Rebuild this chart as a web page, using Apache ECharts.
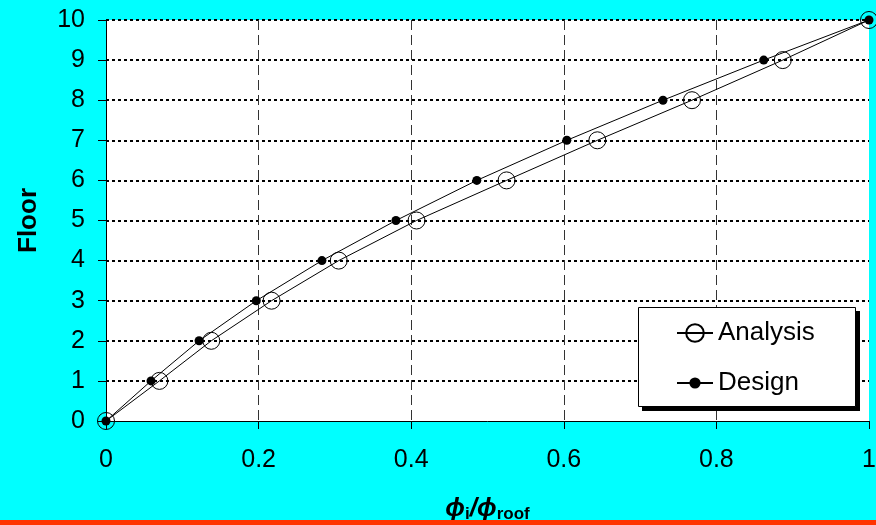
<!DOCTYPE html>
<html>
<head>
<meta charset="utf-8">
<script src="https://cdn.jsdelivr.net/npm/echarts@6/dist/echarts.min.js"></script>
<style>html,body{margin:0;padding:0;background:#00ffff;}#chart{width:876px;height:525px;}</style>
</head>
<body>
<div id="chart"></div>
<script>
const floors = [0, 1, 2, 3, 4, 5, 6, 7, 8, 9, 10];
const analysisRatio = [0, 0.070, 0.138, 0.217, 0.305, 0.407, 0.525, 0.644, 0.768, 0.887, 1];
const designRatio = [0, 0.059, 0.122, 0.197, 0.283, 0.380, 0.486, 0.604, 0.730, 0.862, 1];
const xTicks = [0, 0.2, 0.4, 0.6, 0.8, 1];
const seriesNames = ['Analysis', 'Design'];

const FONT = '"Liberation Sans", Arial, sans-serif';
const chart = echarts.init(document.getElementById('chart'));

const pairs = (xs) => xs.map((x, i) => [x, floors[i]]);

chart.setOption({
  backgroundColor: '#00ffff',
  animation: false,
  grid: { left: 106, right: 7, top: 20, bottom: 104, containLabel: false, outerBoundsMode: 'none',
          show: true, backgroundColor: '#ffffff', borderWidth: 0 },
  xAxis: {
    type: 'value', min: 0, max: 1, interval: 0.2,
    axisLine: { show: true, onZero: false, lineStyle: { color: '#000', width: 1 } },
    axisTick: { show: true, inside: false, length: 8, lineStyle: { color: '#000' } },
    axisLabel: { color: '#000', fontSize: 25, fontFamily: FONT, margin: 27,
      formatter: (v) => { const t = xTicks.find(k => Math.abs(k - v) < 1e-9); return t === undefined ? '' : String(t); } },
    splitLine: { show: true, showMinLine: false, showMaxLine: false, lineStyle: { color: '#333', width: 1, type: [10, 5] } },
    name: '{p|ϕ}{s|i}{p|/ϕ}{s|roof}',
    nameLocation: 'middle', nameGap: 73,
    nameTextStyle: {
      color: '#000', fontFamily: FONT,
      rich: {
        p: { fontSize: 26, fontWeight: 'bold', fontStyle: 'italic', color: '#000', fontFamily: FONT },
        s: { fontSize: 17, fontWeight: 'bold', color: '#000', fontFamily: FONT, padding: [12, 0, 0, 0] }
      }
    }
  },
  yAxis: {
    type: 'value', min: 0, max: 10, interval: 1,
    axisLine: { show: true, lineStyle: { color: '#000', width: 1 } },
    axisTick: { show: true, inside: false, length: 8, lineStyle: { color: '#000' } },
    axisLabel: { color: '#000', fontSize: 25, fontFamily: FONT, margin: 21 },
    splitLine: { show: true, showMinLine: false, lineStyle: { color: '#000', width: 2, type: [3, 3] } },
    name: 'Floor', nameLocation: 'middle', nameGap: 64,
    nameTextStyle: { color: '#000', fontSize: 26, fontWeight: 'bold', fontFamily: FONT }
  },
  legend: [
    { data: [seriesNames[0]], orient: 'vertical', left: 676, top: 320, padding: 0,
      itemWidth: 36, itemHeight: 22, z: 10, selectedMode: false,
      textStyle: { color: '#000', fontSize: 26, fontFamily: FONT } },
    { data: [seriesNames[1]], orient: 'vertical', left: 676, top: 370, padding: 0,
      itemWidth: 36, itemHeight: 14, z: 10, selectedMode: false,
      textStyle: { color: '#000', fontSize: 26, fontFamily: FONT } }
  ],
  graphic: [
    { type: 'rect', left: 642, top: 311, z: 5,
      shape: { width: 218, height: 100 },
      style: { fill: '#000' } },
    { type: 'rect', left: 638, top: 307, z: 6,
      shape: { width: 217, height: 99 },
      style: { fill: '#fff', stroke: '#000', lineWidth: 1 } },
    { type: 'rect', left: 0, top: 520, z: 20,
      shape: { width: 876, height: 5 },
      style: { fill: '#ff3300' } }
  ],
  series: [
    { name: seriesNames[0], type: 'line', data: pairs(analysisRatio),
      symbol: 'circle', symbolSize: 17, showAllSymbol: true,
      lineStyle: { color: '#000', width: 1 },
      itemStyle: { color: 'transparent', borderColor: '#000', borderWidth: 1 }, z: 2 },
    { name: seriesNames[1], type: 'line', data: pairs(designRatio),
      symbol: 'circle', symbolSize: 9, showAllSymbol: true,
      lineStyle: { color: '#000', width: 1 },
      itemStyle: { color: '#000', borderColor: '#000', borderWidth: 0 }, z: 3 }
  ]
});
</script>
</body>
</html>
